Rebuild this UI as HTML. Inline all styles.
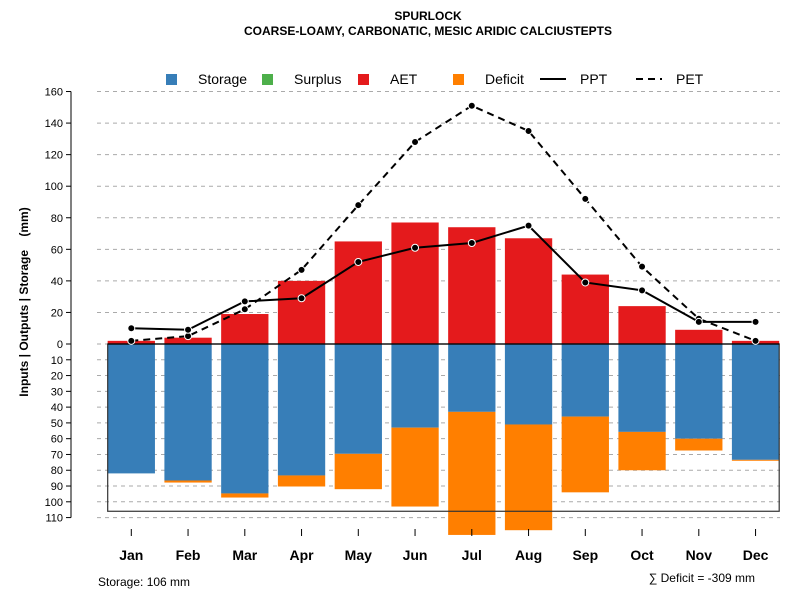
<!DOCTYPE html>
<html><head><meta charset="utf-8"><style>
body{margin:0;background:#fff;font-family:"Liberation Sans",sans-serif}
</style></head><body>
<svg id="c" width="800" height="600" xmlns="http://www.w3.org/2000/svg" font-family="Liberation Sans, sans-serif">
<text x="428" y="20" text-anchor="middle" font-size="12" font-weight="bold">SPURLOCK</text>
<text x="428" y="35" text-anchor="middle" font-size="12" font-weight="bold">COARSE-LOAMY, CARBONATIC, MESIC ARIDIC CALCIUSTEPTS</text>
<g id="grid"></g><g id="bars"></g><g id="axes"></g><g id="lines"></g>
<g font-size="14">
<rect x="166" y="74" width="11" height="11" fill="#377eb8"/><text x="198" y="84">Storage</text>
<rect x="262" y="74" width="11" height="11" fill="#4daf4a"/><text x="294" y="84">Surplus</text>
<rect x="358" y="74" width="11" height="11" fill="#e41a1c"/><text x="390" y="84">AET</text>
<rect x="453" y="74" width="11" height="11" fill="#ff7f00"/><text x="485" y="84">Deficit</text>
<line x1="540" y1="79" x2="566" y2="79" stroke="#000" stroke-width="2"/><text x="580" y="84">PPT</text>
<line x1="636" y1="79" x2="662" y2="79" stroke="#000" stroke-width="2" stroke-dasharray="7,5"/><text x="676" y="84">PET</text>
</g>
<text transform="translate(28,302) rotate(-90)" text-anchor="middle" font-size="12" font-weight="bold" xml:space="preserve">Inputs | Outputs | Storage    (mm)</text>
<text x="98" y="586" font-size="12">Storage: 106 mm</text>
<text x="755" y="582" text-anchor="end" font-size="12">∑ Deficit = -309 mm</text>
</svg>
<script>
const months=["Jan","Feb","Mar","Apr","May","Jun","Jul","Aug","Sep","Oct","Nov","Dec"];
const aet=[2,4,19,40,65,77,74,67,44,24,9,2];
const ppt=[10,9,27,29,52,61,64,75,39,34,14,14];
const pet=[2,5,22,47,88,128,151,135,92,49,16,2];
const storage=[82,86.5,94.7,83.3,69.6,53,43,51,46,55.7,60,73.4];
const deficit=[0,1.3,2.6,7,22.4,50,78,67,48,24.3,7.5,0.6];
const topTicks=[0,20,40,60,80,100,120,140,160];
const botTicks=[0,10,20,30,40,50,60,70,80,90,100,110];
const storageMax=106;
const NS="http://www.w3.org/2000/svg";
const y0=344, k=1.578;
const yUp=v=>y0-v*k, yDn=v=>y0+v*k;
const xC=i=>131.3+i*56.75, bw=47.3;
function mk(t,a,p){const e=document.createElementNS(NS,t);for(const q in a)e.setAttribute(q,a[q]);p.appendChild(e);return e;}
const G=document.getElementById('grid'),B=document.getElementById('bars'),A=document.getElementById('axes'),L=document.getElementById('lines');
topTicks.forEach(t=>{const y=yUp(t);
 const g=mk('line',{x1:97,x2:780,y1:y,y2:y,stroke:'#aaa','stroke-dasharray':'4,4'},G);
 
 
 const tx=mk('text',{x:63,y:y+4,'text-anchor':'end','font-size':11},A);tx.textContent=t;
 
 
 mk('line',{x1:66,x2:71,y1:y,y2:y,stroke:'#000'},A);});
botTicks.forEach(t=>{if(t===0)return;const y=yDn(t);
 const g=mk('line',{x1:97,x2:780,y1:y,y2:y,stroke:'#aaa','stroke-dasharray':'4,4'},G);
 
 
 const tx=mk('text',{x:63,y:y+4,'text-anchor':'end','font-size':11},A);tx.textContent=t;
 
 
 mk('line',{x1:66,x2:71,y1:y,y2:y,stroke:'#000'},A);});
mk('line',{x1:71,x2:71,y1:yUp(160),y2:yDn(110),stroke:'#000'},A);
months.forEach((m,i)=>{const x=xC(i)-bw/2;
 const a=mk('rect',{x:x,y:yUp(aet[i]),width:bw,height:aet[i]*k,fill:'#e41a1c'},B);
 
 
 const s=mk('rect',{x:x,y:y0,width:bw,height:storage[i]*k,fill:'#377eb8'},B);
 
 
 const d=mk('rect',{x:x,y:yDn(storage[i]),width:bw,height:deficit[i]*k,fill:'#ff7f00'},B);
 
 
 mk('line',{x1:xC(i),x2:xC(i),y1:529,y2:536,stroke:'#000'},A);
 const t=mk('text',{x:xC(i),y:560,'text-anchor':'middle','font-size':14,'font-weight':'bold'},A);t.textContent=m;
 
 });
mk('rect',{x:107.7,y:y0,width:671.5,height:storageMax*k,fill:'none',stroke:'#333','stroke-width':1.2},A);
mk('line',{x1:107.7,x2:779.2,y1:y0,y2:y0,stroke:'#000','stroke-width':1.2},A);
function series(vals,dash,name){
 const p=mk('polyline',{points:vals.map((v,i)=>xC(i)+','+yUp(v)).join(' '),fill:'none',stroke:'#000','stroke-width':2,'stroke-dasharray':dash},L);
 
 
 vals.forEach((v,i)=>{const c=mk('circle',{cx:xC(i),cy:yUp(v),r:3.5,fill:'#000',stroke:'#fff','stroke-width':1},L);
 
 });}
series(pet,'7,5','pet');
series(ppt,'none','ppt');
</script>
</body></html>
